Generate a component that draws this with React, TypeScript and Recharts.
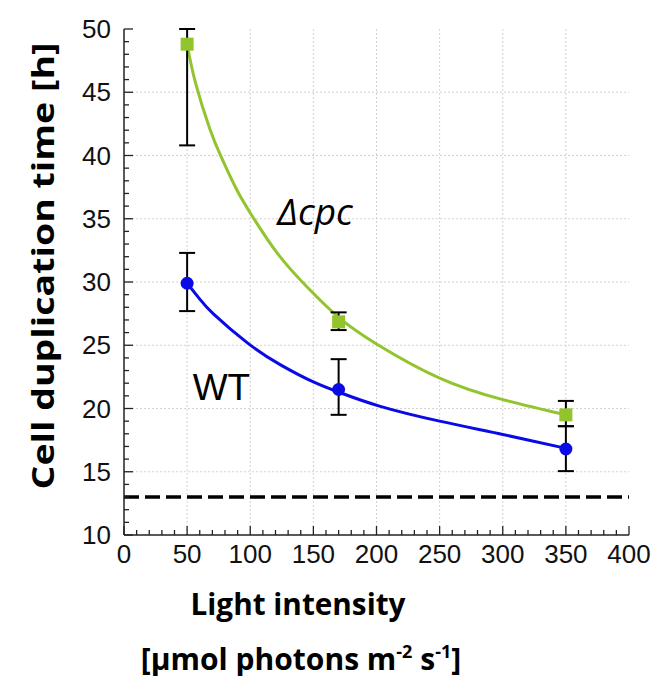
import React from 'react';
import {
  ComposedChart,
  Line,
  Scatter,
  XAxis,
  YAxis,
  ErrorBar,
  ReferenceLine,
  ReferenceDot,
  Label,
} from 'recharts';

// ---- data ----
const lightLevels = [50, 170, 350];

const wtMean = [29.9, 21.5, 16.8];
const wtLow = [27.7, 19.5, 15.05];
const wtHigh = [32.3, 23.9, 18.6];

const cpcMean = [48.8, 26.85, 19.5];
const cpcLow = [40.8, 26.2, 18.6];
const cpcHigh = [50, 27.6, 20.6];

// fitted curves
const cpcFitX = [50, 56.5, 68, 77.6, 89, 101, 122, 146, 170, 200, 250, 300, 350];
const cpcFitY = [48.8, 45.8, 42.1, 39.75, 37.35, 35.3, 32.2, 29.5, 27.2, 25.1, 22.4, 20.7, 19.5];

const wtFitX = [50, 60, 71, 98, 124, 150, 171, 203, 250, 300, 350];
const wtFitY = [29.9, 28.65, 27.46, 25.17, 23.45, 22.1, 21.26, 20.17, 19.0, 17.95, 16.85];

const referenceLevel = 13;

const xMajorTicks = [0, 50, 100, 150, 200, 250, 300, 350, 400];
const yMajorTicks = [10, 15, 20, 25, 30, 35, 40, 45, 50];
const xAllTicks = [
  0, 10, 20, 30, 40, 50, 60, 70, 80, 90, 100, 110, 120, 130, 140, 150, 160, 170, 180, 190, 200,
  210, 220, 230, 240, 250, 260, 270, 280, 290, 300, 310, 320, 330, 340, 350, 360, 370, 380, 390, 400,
];
const yAllTicks = [
  10, 11, 12, 13, 14, 15, 16, 17, 18, 19, 20, 21, 22, 23, 24, 25, 26, 27, 28, 29, 30,
  31, 32, 33, 34, 35, 36, 37, 38, 39, 40, 41, 42, 43, 44, 45, 46, 47, 48, 49, 50,
];

// ---- tables built from the arrays ----
const wtPoints = lightLevels.map((x, i) => ({
  x,
  y: wtMean[i],
  err: [wtMean[i] - wtLow[i], wtHigh[i] - wtMean[i]],
}));
const cpcPoints = lightLevels.map((x, i) => ({
  x,
  y: cpcMean[i],
  err: [cpcMean[i] - cpcLow[i], cpcHigh[i] - cpcMean[i]],
}));
const cpcFit = cpcFitX.map((x, i) => ({ x, y: cpcFitY[i] }));
const wtFit = wtFitX.map((x, i) => ({ x, y: wtFitY[i] }));

const GREEN = '#92C42E';
const BLUE = '#0A0AE6';
const AXIS = '#222';
const TICK_FONT = '"Liberation Sans", Arial, sans-serif';
const LABEL_FONT = '"Open Sans", "Noto Sans", sans-serif';

const isMajor = (v: number, step: number) => Math.abs(v % step) < 1e-9;

const BottomTick = (props: any) => {
  const { x, y, payload } = props;
  const v = payload.value;
  const major = isMajor(v, 50);
  return (
    <g>
      <line x1={x} y1={y} x2={x} y2={y - (major ? 9 : 5)} stroke={AXIS} strokeWidth={1.3} />
      {major && (
        <text x={x} y={y + 19} dy="0.35em" textAnchor="middle" fontFamily={TICK_FONT} fontSize={26} fill="#111">
          {v}
        </text>
      )}
    </g>
  );
};

const TopTick = (props: any) => {
  const { x, y, payload } = props;
  const major = isMajor(payload.value, 50);
  return <line x1={x} y1={y} x2={x} y2={y + (major ? 9 : 5)} stroke={AXIS} strokeWidth={1.3} />;
};

const LeftTick = (props: any) => {
  const { x, y, payload } = props;
  const v = payload.value;
  const major = isMajor(v, 5);
  return (
    <g>
      <line x1={x} y1={y} x2={x + (major ? 9 : 5)} y2={y} stroke={AXIS} strokeWidth={1.3} />
      {major && (
        <text x={x - 13} y={y} dy="0.35em" textAnchor="end" fontFamily={TICK_FONT} fontSize={26} fill="#111">
          {v}
        </text>
      )}
    </g>
  );
};

const RightTick = (props: any) => {
  const { x, y, payload } = props;
  const major = isMajor(payload.value, 5);
  return <line x1={x} y1={y} x2={x - (major ? 9 : 5)} y2={y} stroke={AXIS} strokeWidth={1.3} />;
};

const YTitle = () => (
  <text
    x={54}
    y={266}
    transform="rotate(-90 54 266)"
    textAnchor="middle"
    fontFamily={LABEL_FONT}
    fontWeight={700}
    fontSize={31}
    textLength={447}
    lengthAdjust="spacingAndGlyphs"
    fill="#000"
  >
    Cell duplication time [h]
  </text>
);

const XTitle = () => (
  <g>
    <text
      x={298}
      y={615}
      textAnchor="middle"
      fontFamily={LABEL_FONT}
      fontWeight={700}
      fontSize={31}
      textLength={215}
      lengthAdjust="spacingAndGlyphs"
      fill="#000"
    >
      Light intensity
    </text>
    <text
      x={301}
      y={670}
      textAnchor="middle"
      fontFamily={LABEL_FONT}
      fontWeight={700}
      fontSize={30}
      fill="#000"
    >
      <tspan>[µmol photons m</tspan>
      <tspan dy={-12} fontSize={18}>-2</tspan>
      <tspan dy={12}> s</tspan>
      <tspan dy={-12} fontSize={18}>-1</tspan>
      <tspan dy={12}>]</tspan>
    </text>
  </g>
);

const makeAnnot = (text: string, italic: boolean, family: string, size: number) => (props: any) => {
  const vb = props.viewBox || {};
  const cx = (vb.x || 0) + (vb.width || 0) / 2;
  const cy = (vb.y || 0) + (vb.height || 0) / 2;
  return (
    <text
      x={cx}
      y={cy}
      textAnchor="middle"
      fontFamily={family}
      fontStyle={italic ? 'italic' : 'normal'}
      fontSize={size}
      fill="#000"
    >
      {text}
    </text>
  );
};

const Square = (props: any) => {
  const { cx, cy } = props;
  return <rect x={cx - 6.5} y={cy - 6.5} width={13} height={13} fill={GREEN} />;
};
const Dot = (props: any) => {
  const { cx, cy } = props;
  return <circle cx={cx} cy={cy} r={6.5} fill={BLUE} />;
};

export default function App() {
  return (
    <div style={{ margin: -8, width: 665, height: 684 }}>
      <ComposedChart
        width={665}
        height={684}
        margin={{ top: 29, right: 36, bottom: 109, left: 0 }}
      >
        <XAxis
          xAxisId="b"
          dataKey="x"
          type="number"
          domain={[0, 400]}
          ticks={xAllTicks}
          interval={0}
          allowDataOverflow
          height={40}
          tickSize={0}
          tickMargin={0}
          tickLine={false}
          axisLine={{ stroke: AXIS, strokeWidth: 1.5 }}
          tick={<BottomTick />}
        >
          <Label content={() => <XTitle />} />
        </XAxis>
        <XAxis
          xAxisId="t"
          orientation="top"
          type="number"
          domain={[0, 400]}
          ticks={xAllTicks}
          interval={0}
          allowDataOverflow
          height={0}
          tickSize={0}
          tickMargin={0}
          tickLine={false}
          axisLine={{ stroke: AXIS, strokeWidth: 1.5 }}
          tick={<TopTick />}
        />
        <YAxis
          yAxisId="l"
          type="number"
          domain={[10, 50]}
          ticks={yAllTicks}
          interval={0}
          allowDataOverflow
          width={124}
          tickSize={0}
          tickMargin={0}
          tickLine={false}
          axisLine={{ stroke: AXIS, strokeWidth: 1.5 }}
          tick={<LeftTick />}
        >
          <Label content={() => <YTitle />} />
        </YAxis>
        <YAxis
          yAxisId="r"
          orientation="right"
          type="number"
          domain={[10, 50]}
          ticks={yAllTicks}
          interval={0}
          allowDataOverflow
          width={0}
          tickSize={0}
          tickMargin={0}
          tickLine={false}
          axisLine={{ stroke: AXIS, strokeWidth: 1.5 }}
          tick={<RightTick />}
        />

        {xMajorTicks.slice(1, -1).map((v) => (
          <ReferenceLine
            key={'gx' + v}
            xAxisId="b"
            yAxisId="l"
            x={v}
            stroke="#d2d2d2"
            strokeWidth={1}
            strokeDasharray="2 2"
          />
        ))}
        {yMajorTicks.slice(1, -1).map((v) => (
          <ReferenceLine
            key={'gy' + v}
            xAxisId="b"
            yAxisId="l"
            y={v}
            stroke="#d2d2d2"
            strokeWidth={1}
            strokeDasharray="2 2"
          />
        ))}

        <ReferenceLine
          xAxisId="b"
          yAxisId="l"
          y={referenceLevel}
          stroke="#000"
          strokeWidth={3.5}
          strokeDasharray="15 6"
        />

        <Line
          xAxisId="b"
          yAxisId="l"
          data={cpcFit}
          dataKey="y"
          type="natural"
          stroke={GREEN}
          strokeWidth={3}
          dot={false}
          isAnimationActive={false}
        />
        <Line
          xAxisId="b"
          yAxisId="l"
          data={wtFit}
          dataKey="y"
          type="natural"
          stroke={BLUE}
          strokeWidth={3}
          dot={false}
          isAnimationActive={false}
        />

        <Scatter
          xAxisId="b"
          yAxisId="l"
          data={wtPoints}
          dataKey="y"
          shape={<Dot />}
          isAnimationActive={false}
        >
          <ErrorBar dataKey="err" direction="y" width={8} stroke="#000" strokeWidth={2} isAnimationActive={false} />
        </Scatter>
        <Scatter
          xAxisId="b"
          yAxisId="l"
          data={cpcPoints}
          dataKey="y"
          shape={<Square />}
          isAnimationActive={false}
        >
          <ErrorBar dataKey="err" direction="y" width={8} stroke="#000" strokeWidth={2} isAnimationActive={false} />
        </Scatter>

        <ReferenceDot
          xAxisId="b"
          yAxisId="l"
          x={151.3}
          y={34.5}
          r={0}
          fill="none"
          stroke="none"
          label={{ content: makeAnnot('Δcpc', true, '"Open Sans", sans-serif', 37) }}
        />
        <ReferenceDot
          xAxisId="b"
          yAxisId="l"
          x={77.2}
          y={20.65}
          r={0}
          fill="none"
          stroke="none"
          label={{ content: makeAnnot('WT', false, TICK_FONT, 37) }}
        />
      </ComposedChart>
    </div>
  );
}
